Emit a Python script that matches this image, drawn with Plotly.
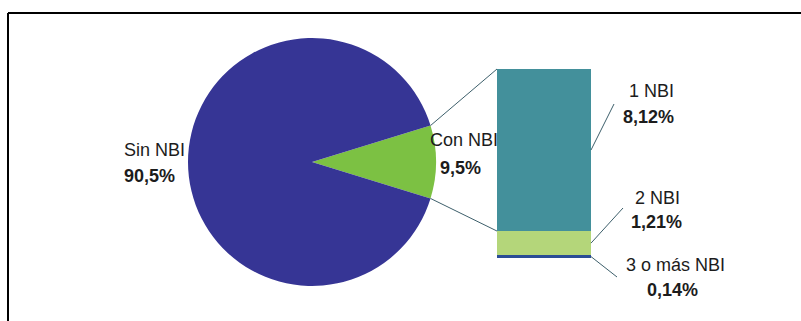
import math
import plotly.graph_objects as go

W, H = 801, 321

# Población según necesidades básicas insatisfechas (NBI)
pie_labels = ["Con NBI", "Sin NBI"]
pie_values = [9.5, 90.5]
pie_colors = ["#7cc143", "#363595"]

# Desglose de la población con NBI
bar_labels = ["3 o más NBI", "2 NBI", "1 NBI"]
bar_values = [0.14, 1.21, 8.12]
bar_colors = ["#2a4d95", "#b4d67a", "#43909b"]

TXT = "#1c1c1c"
FONT = "Liberation Sans, Arial, sans-serif"


def fx(px):
    return px / W


def fy(py):
    return 1 - py / H


def fmt(v, dec):
    return f"{v:.{dec}f}".replace(".", ",") + "%"


# pie geometry (pixels)
pie_left, pie_top, pie_size = 188, 38, 248
cx, cy, r = pie_left + pie_size / 2, pie_top + pie_size / 2, pie_size / 2
share = pie_values[0] / sum(pie_values)
rotation = 90 - share * 360 / 2

# bar geometry (pixels)
bar_left, bar_right, bar_top, bar_bottom = 497, 591, 69, 258
total = sum(bar_values)

fig = go.Figure()
fig.add_trace(go.Pie(
    labels=pie_labels, values=pie_values, sort=False, direction="clockwise",
    rotation=rotation, marker=dict(colors=pie_colors, line=dict(width=0)),
    textinfo="none", hoverinfo="label+percent", showlegend=False,
    domain=dict(x=[fx(pie_left), fx(pie_left + pie_size)],
                y=[fy(pie_top + pie_size), fy(pie_top)]),
))
for lab, val, col in zip(bar_labels, bar_values, bar_colors):
    fig.add_trace(go.Bar(
        x=[0], y=[val], name=lab, width=1, marker=dict(color=col, line=dict(width=0)),
        showlegend=False, xaxis="x", yaxis="y",
    ))


def bar_py(v):
    return bar_bottom - (bar_bottom - bar_top) * v / total


shapes = []
# frame
shapes.append(dict(type="line", xref="paper", yref="paper", x0=fx(8), x1=1, y0=fy(13), y1=fy(13),
                   line=dict(color="#000000", width=2)))
shapes.append(dict(type="line", xref="paper", yref="paper", x0=fx(8), x1=fx(8), y0=fy(13), y1=0,
                   line=dict(color="#000000", width=2)))

# connectors from the slice edges to the bar corners
LC = "#3d5f6b"
for ang, py in [(rotation, bar_top), (rotation + share * 360, bar_py(bar_values[0] + bar_values[1]))]:
    a = math.radians(ang)
    ex, ey = cx + r * math.sin(a), cy - r * math.cos(a)
    shapes.append(dict(type="line", xref="paper", yref="paper", x0=fx(ex), y0=fy(ey),
                       x1=fx(bar_left), y1=fy(py), line=dict(color=LC, width=1)))

# leader lines for the bar labels
label_ends = [(617, 277), (623, 208), (614, 104)]
cum = 0
for val, (lx, ly) in zip(bar_values, label_ends):
    mid = bar_py(cum + val / 2)
    cum += val
    shapes.append(dict(type="line", xref="paper", yref="paper", x0=fx(bar_right), y0=fy(mid),
                       x1=fx(lx), y1=fy(ly), line=dict(color=LC, width=1)))

annotations = []


def label(text, x, y, bold=False, anchor="center"):
    annotations.append(dict(
        text=f"<b>{text}</b>" if bold else text, x=fx(x), y=fy(y), xref="paper", yref="paper",
        xanchor=anchor, yanchor="middle", showarrow=False,
        font=dict(family=FONT, size=18, color=TXT),
    ))


label(pie_labels[1], 122, 150, anchor="left")
label(fmt(pie_values[1], 1), 122, 176, bold=True, anchor="left")
label(pie_labels[0], 464, 140)
label(fmt(pie_values[0], 1), 461, 168, bold=True)

bar_label_pos = [(675, 265, 672, 290), (657, 198, 656, 222), (651, 91, 648, 117)]
for lab, val, (x1, y1, x2, y2) in zip(bar_labels, bar_values, bar_label_pos):
    label(lab, x1, y1)
    label(fmt(val, 2), x2, y2, bold=True)

fig.update_layout(
    width=W, height=H, margin=dict(l=0, r=0, t=0, b=0),
    paper_bgcolor="white", plot_bgcolor="rgba(0,0,0,0)",
    barmode="stack", bargap=0,
    xaxis=dict(domain=[fx(bar_left), fx(bar_right)], range=[-0.5, 0.5], visible=False, fixedrange=True),
    yaxis=dict(domain=[fy(bar_bottom), fy(bar_top)], range=[0, total], visible=False, fixedrange=True),
    shapes=shapes, annotations=annotations,
)

fig.write_html("out.html")
